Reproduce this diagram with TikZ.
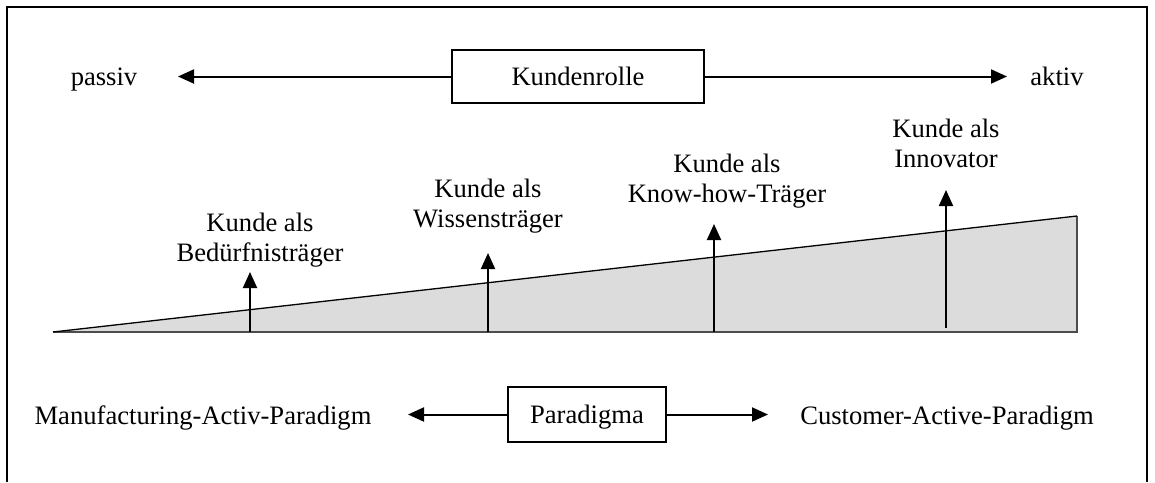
\documentclass[tikz,border=0pt]{standalone}
\usepackage{fontspec}
\setmainfont{Liberation Serif}
\usetikzlibrary{arrows.meta}
\begin{document}
\begin{tikzpicture}[x=1pt,y=-1pt,
  lbl/.style={font=\fontsize{26.6}{30}\selectfont, inner sep=0pt},
  box/.style={draw, line width=2pt, inner sep=0pt, font=\fontsize{26.6}{30}\selectfont, text height=18pt, text depth=0pt},
  arr/.style={line width=2pt, -{Triangle[length=16pt,width=14pt]}},
]
\useasboundingbox (0,0) rectangle (1155,482);
\draw[line width=2pt] (7,482) -- (7,7) -- (1147,7) -- (1147,482);
% wedge
\fill[fill={rgb,255:red,220;green,220;blue,220}] (53,332) -- (1077,332) -- (1077,216) -- cycle;
\draw[gray!60!black, line width=1.5pt] (53,332) -- (1077,332) -- (1077,216);
\draw[line width=1.3pt] (53,332) -- (1077,216);
% top row
\node[box, minimum width=252pt, minimum height=53pt] (kr) at (578,76.5) {Kundenrolle};
\coordinate (pl) at (178,76.5);
\coordinate (pr) at (1007,76.5);
\draw[arr] (kr.west) -- (pl);
\draw[arr] (kr.east) -- (pr);
\node[lbl, anchor=base] (ps) at (104,85) {passiv};
\node[lbl, anchor=base] (ak) at (1057,85) {aktiv};
% bottom row
\node[box, minimum width=158pt, minimum height=55pt] (pa) at (587,414.5) {Paradigma};
\coordinate (ql) at (408,414.5);
\coordinate (qr) at (768,414.5);
\draw[arr] (pa.west) -- (ql);
\draw[arr] (pa.east) -- (qr);
\node[lbl, anchor=base] (mp) at (203,424) {Manufacturing-Activ-Paradigm};
\node[lbl, anchor=base] (cp) at (947,424) {Customer-Active-Paradigm};
% role labels
\node[lbl, anchor=base, align=center] (k1) at (260,261) {Kunde als\\Bedürfnisträger};
\node[lbl, anchor=base, align=center] (k2) at (488,227) {Kunde als\\Wissensträger};
\node[lbl, anchor=base, align=center] (k3) at (727,202) {Kunde als\\Know-how-Träger};
\node[lbl, anchor=base, align=center] (k4) at (946,167) {Kunde als\\Innovator};
% vertical arrows
\coordinate (b1) at (250,332); \coordinate (t1) at (250,272);
\coordinate (b2) at (488,332); \coordinate (t2) at (488,253);
\coordinate (b3) at (714,332); \coordinate (t3) at (714,224);
\coordinate (b4) at (946,328); \coordinate (t4) at (946,190);
\draw[arr] (b1) -- (t1);
\draw[arr] (b2) -- (t2);
\draw[arr] (b3) -- (t3);
\draw[arr] (b4) -- (t4);
\end{tikzpicture}
\end{document}
